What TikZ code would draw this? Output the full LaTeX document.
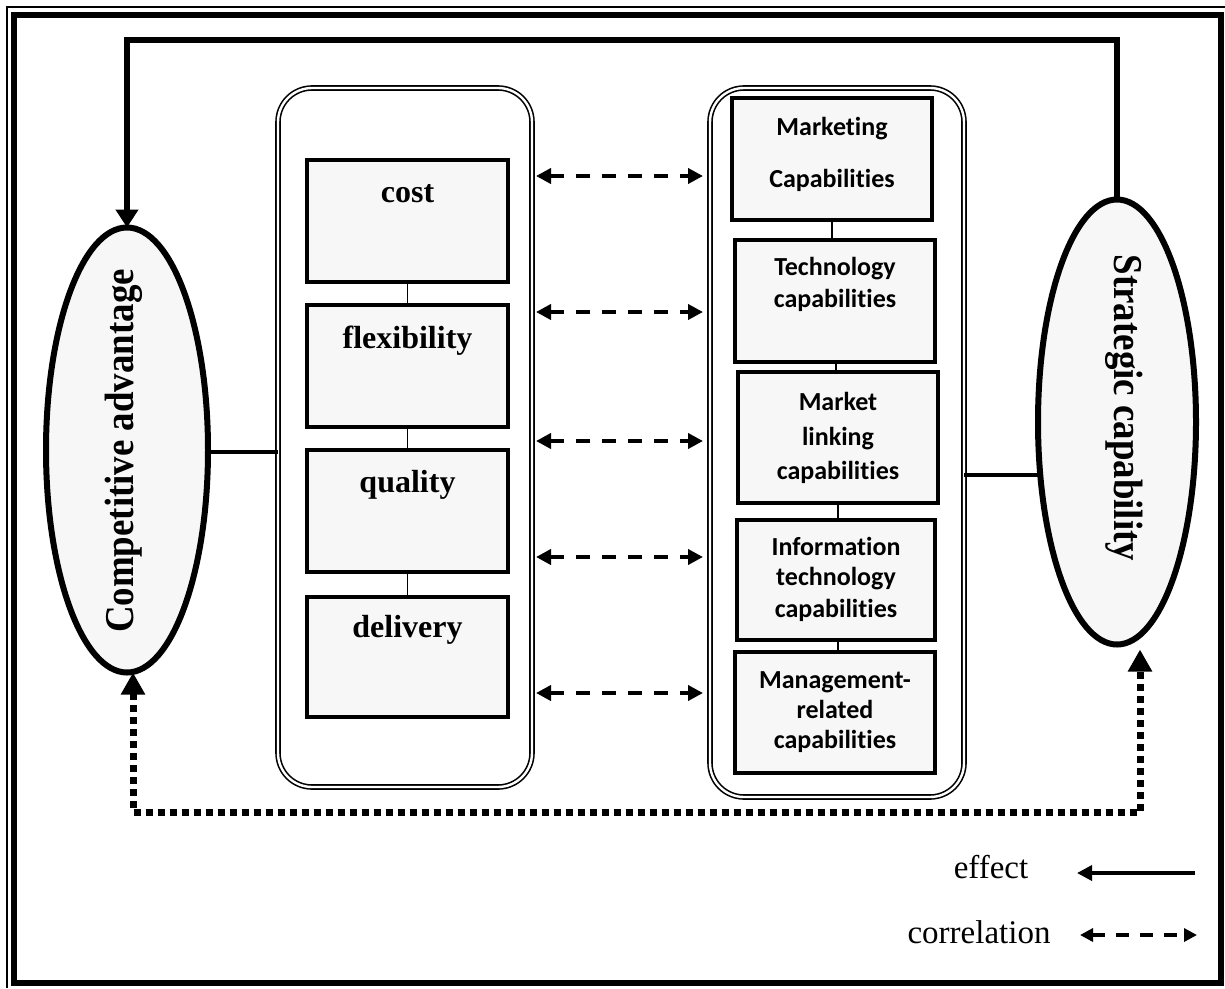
\documentclass[tikz,border=0pt]{standalone}
\usepackage{fontspec}
\setmainfont{Liberation Serif}
\newfontfamily\capfont[Ligatures=NoCommon]{Carlito}
\newfontfamily\ellfont[FakeStretch=0.9]{Liberation Serif}
\usetikzlibrary{arrows.meta,shapes.geometric}
\begin{document}
\begin{tikzpicture}[x=1pt,y=-1pt,
  cont/.style={draw, double, line width=1.6pt, double distance=2.4pt, rounded corners=34pt,
    minimum width=254pt, inner sep=0pt, outer sep=0pt},
  lbox/.style={draw, line width=4.2pt, fill=black!3, minimum width=201pt, inner sep=0pt, outer sep=0pt},
  rbox/.style={draw, line width=4.6pt, fill=black!3, inner sep=0pt, outer sep=0pt},
  ltxt/.style={font=\fontsize{32}{32}\selectfont\bfseries, anchor=base, inner sep=0pt},
  rtxt/.style={font=\capfont\fontsize{26}{26}\selectfont\bfseries, anchor=base, inner sep=0pt},
  ell/.style={draw, ellipse, line width=6pt, fill=black!3, inner sep=0pt, outer sep=0pt},
  etxt/.style={font=\ellfont\fontsize{41}{41}\selectfont\bfseries, inner sep=0pt},
  legtxt/.style={font=\fontsize{33}{33}\selectfont, anchor=base, inner sep=0pt},
  thin/.style={line width=1.4pt},
  eff/.style={line width=6pt, line join=miter, -{Triangle[length=18pt,width=22pt]}},
  link/.style={line width=4.5pt},
  corr/.style={line width=4pt, dash pattern=on 14pt off 12pt,
    {Triangle[length=15pt,width=15pt]}-{Triangle[length=15pt,width=15pt]},
    shorten <=4pt, shorten >=7pt},
  dots/.style={line width=7pt, dash pattern=on 7pt off 5pt,
    {Triangle[length=22pt,width=23pt]}-{Triangle[length=22pt,width=23pt]}},
]
\useasboundingbox (0,0) rectangle (1225,988);
% frame
\draw[line width=1.8pt] (7,988) -- (7,7) -- (1225,7);
\draw[line width=6pt] (14,15) rectangle (1221,983);

% containers
\node[cont, minimum height=699pt] (lc) at (405,437.5) {};
\node[cont, minimum height=709pt] (rc) at (837,442.5) {};

% left boxes
\node[lbox, minimum height=122pt] (cost) at (407.5,221) {};
\node[lbox, minimum height=122pt] (flex) at (407.5,366) {};
\node[lbox, minimum height=122pt] (qual) at (407.5,511) {};
\node[lbox, minimum height=120pt] (deli) at (407.5,657) {};
\node[ltxt] (tcost) at (407.5,202) {cost};
\node[ltxt] (tflex) at (407.5,348) {flexibility};
\node[ltxt] (tqual) at (407.5,492) {quality};
\node[ltxt] (tdeli) at (407.5,637) {delivery};
\draw[thin] (cost.south) -- (flex.north);
\draw[thin] (flex.south) -- (qual.north);
\draw[thin] (qual.south) -- (deli.north);

% right boxes
\node[rbox, minimum width=200pt, minimum height=122pt] (mkt) at (832,159) {};
\node[rbox, minimum width=200pt, minimum height=122pt] (tech) at (835,301) {};
\node[rbox, minimum width=200pt, minimum height=131pt] (mlink) at (838,437.5) {};
\node[rbox, minimum width=198pt, minimum height=120pt] (info) at (836,580) {};
\node[rbox, minimum width=200pt, minimum height=121pt] (mgmt) at (835,712.5) {};
\node[rtxt] (m1) at (832,135) {Marketing};
\node[rtxt] (m2) at (832,187) {Capabilities};
\node[rtxt] (t1) at (835,275) {Technology};
\node[rtxt] (t2) at (835,307) {capabilities};
\node[rtxt] (l1) at (838,410) {Market};
\node[rtxt] (l2) at (838,445) {linking};
\node[rtxt] (l3) at (838,479) {capabilities};
\node[rtxt] (i1) at (836,555) {Information};
\node[rtxt] (i2) at (836,585) {technology};
\node[rtxt] (i3) at (836,617) {capabilities};
\node[rtxt] (g1) at (835,688) {Management-};
\node[rtxt] (g2) at (835,718) {related};
\node[rtxt] (g3) at (835,748) {capabilities};
\draw[thin] (mkt.south) -- (mkt.south |- tech.north);
\draw[thin] (tech.south -| 836,0) -- (mlink.north -| 836,0);
\draw[thin] (mlink.south) -- (mlink.south |- info.north);
\draw[thin] (info.south -| 838,0) -- (mgmt.north -| 838,0);

% ellipses
\node[ell, minimum width=162pt, minimum height=445pt] (ca) at (127,450) {};
\node[ell, minimum width=158pt, minimum height=445pt] (sc) at (1117,422) {};
\node[etxt, rotate=90] (tca) at (124,451) {Competitive advantage};
\node[etxt, rotate=-90] (tsc) at (1124,408) {Strategic capability};

% links
\coordinate (yleft) at (0,452);
\draw[link] (ca.east |- yleft) -- (lc.west |- yleft);
\coordinate (ylink) at (0,475);
\draw[link] (rc.east |- ylink) -- ([xshift=2pt]ylink -| sc.west);

% effect loop at top
\coordinate (ytop) at (0,40);
\draw[eff] (sc.north) -- (sc.north |- ytop) -- (ca.north |- ytop) -- (ca.north);

% correlation arrows
\foreach \yy/\nn in {176/a,312/b,441/c,557/d,693/e}{
  \coordinate (cy\nn) at (0,\yy);
  \draw[corr] (lc.east |- cy\nn) -- (rc.west |- cy\nn);
}

% dotted correlation between ellipses
\draw[dots] ([xshift=6pt]ca.south) -- ++(0,140) -| ([xshift=23pt,yshift=-5pt]sc.south);

% legend
\node[legtxt] (leff) at (991,878) {effect};
\node[legtxt] (lcor) at (979,943) {correlation};
\coordinate (e1) at (1195,873);
\coordinate (e2) at (1077,873);
\draw[line width=3.5pt, -{Triangle[length=15pt,width=15pt]}] (e1) -- (e2);
\coordinate (c1) at (1080,935);
\coordinate (c2) at (1197,935);
\draw[line width=3.5pt, dash pattern=on 13pt off 11pt,
  {Triangle[length=13pt,width=13pt]}-{Triangle[length=13pt,width=13pt]}] (c1) -- (c2);
\end{tikzpicture}
\end{document}
